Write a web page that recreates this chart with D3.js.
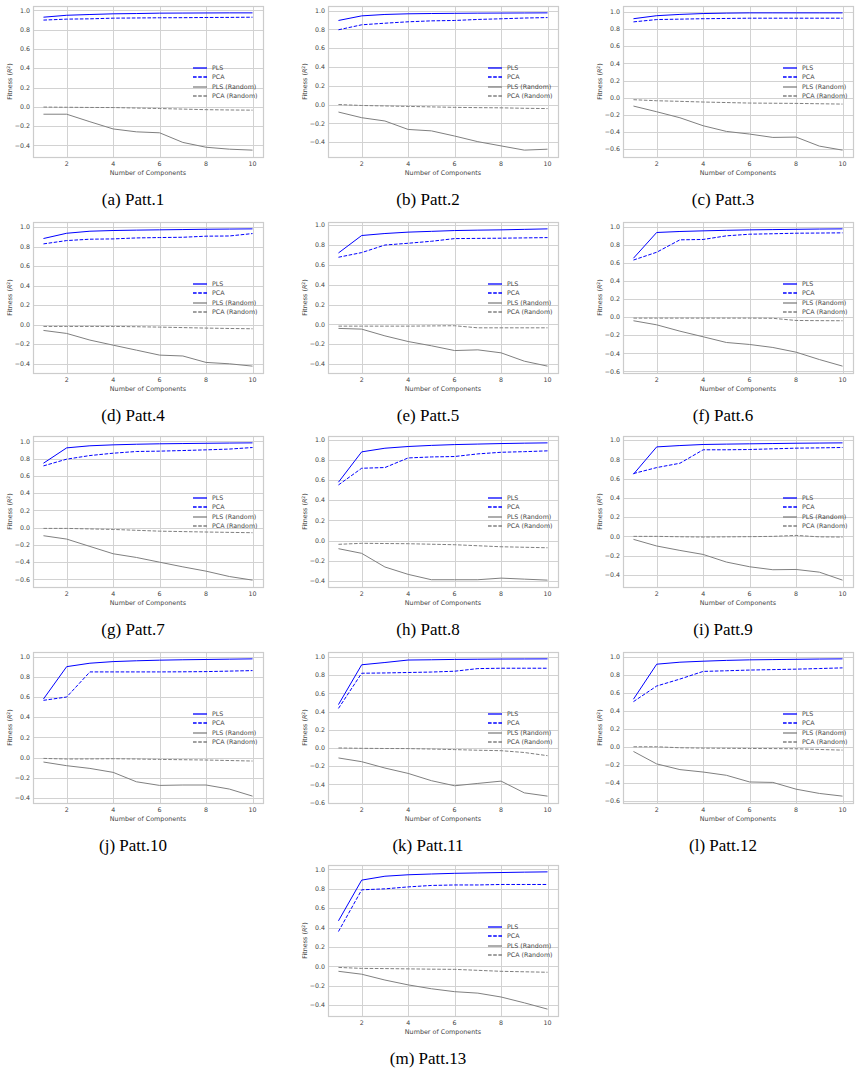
<!DOCTYPE html>
<html>
<head>
<meta charset="utf-8">
<script src="https://cdn.jsdelivr.net/npm/d3@7"></script>
<style>
body { margin: 0; background: #fff; }
text { font-family: "DejaVu Sans", sans-serif; }
</style>
</head>
<body>
<script>
// number of components on the x axis
var components = [1, 2, 3, 4, 5, 6, 7, 8, 9, 10];

var captions = ["(a) Patt.1", "(b) Patt.2", "(c) Patt.3", "(d) Patt.4", "(e) Patt.5",
  "(f) Patt.6", "(g) Patt.7", "(h) Patt.8", "(i) Patt.9", "(j) Patt.10",
  "(k) Patt.11", "(l) Patt.12", "(m) Patt.13"];

var seriesNames = ["PLS", "PCA", "PLS (Random)", "PCA (Random)"];

// one row per pattern
var plsValues = [
  [0.93, 0.95, 0.958, 0.965, 0.968, 0.972, 0.973, 0.974, 0.975, 0.975],
  [0.894, 0.943, 0.958, 0.965, 0.968, 0.97, 0.972, 0.973, 0.974, 0.975],
  [0.92, 0.955, 0.97, 0.98, 0.985, 0.988, 0.988, 0.988, 0.988, 0.988],
  [0.884, 0.938, 0.959, 0.966, 0.97, 0.973, 0.976, 0.979, 0.981, 0.983],
  [0.72, 0.896, 0.916, 0.93, 0.938, 0.946, 0.95, 0.953, 0.958, 0.963],
  [0.65, 0.934, 0.945, 0.952, 0.958, 0.963, 0.966, 0.969, 0.972, 0.974],
  [0.748, 0.926, 0.95, 0.961, 0.968, 0.973, 0.976, 0.979, 0.982, 0.984],
  [0.578, 0.878, 0.914, 0.931, 0.942, 0.95, 0.955, 0.96, 0.964, 0.967],
  [0.646, 0.93, 0.944, 0.955, 0.959, 0.962, 0.965, 0.968, 0.97, 0.972],
  [0.58, 0.9, 0.934, 0.95, 0.958, 0.964, 0.968, 0.971, 0.974, 0.977],
  [0.477, 0.915, 0.94, 0.967, 0.97, 0.974, 0.976, 0.978, 0.979, 0.98],
  [0.527, 0.915, 0.937, 0.948, 0.957, 0.963, 0.966, 0.969, 0.972, 0.974],
  [0.47, 0.89, 0.93, 0.945, 0.953, 0.96, 0.964, 0.968, 0.972, 0.975]
];

var pcaValues = [
  [0.9, 0.91, 0.913, 0.92, 0.922, 0.924, 0.925, 0.927, 0.928, 0.93],
  [0.795, 0.848, 0.865, 0.88, 0.89, 0.894, 0.905, 0.912, 0.92, 0.925],
  [0.883, 0.91, 0.915, 0.92, 0.923, 0.926, 0.926, 0.926, 0.926, 0.926],
  [0.829, 0.863, 0.877, 0.88, 0.89, 0.894, 0.897, 0.908, 0.91, 0.935],
  [0.677, 0.724, 0.8, 0.818, 0.838, 0.865, 0.867, 0.869, 0.872, 0.875],
  [0.63, 0.716, 0.853, 0.857, 0.897, 0.915, 0.92, 0.926, 0.928, 0.93],
  [0.717, 0.795, 0.837, 0.864, 0.884, 0.888, 0.895, 0.903, 0.912, 0.93],
  [0.551, 0.716, 0.723, 0.818, 0.828, 0.832, 0.858, 0.874, 0.88, 0.888],
  [0.653, 0.715, 0.76, 0.9, 0.9, 0.903, 0.91, 0.917, 0.92, 0.924],
  [0.567, 0.6, 0.848, 0.848, 0.848, 0.848, 0.849, 0.851, 0.856, 0.861],
  [0.435, 0.822, 0.825, 0.83, 0.835, 0.844, 0.873, 0.877, 0.877, 0.877],
  [0.5, 0.673, 0.75, 0.835, 0.842, 0.85, 0.855, 0.86, 0.867, 0.874],
  [0.36, 0.79, 0.8, 0.82, 0.835, 0.84, 0.84, 0.845, 0.845, 0.845]
];

var plsRandomValues = [
  [-0.077, -0.077, -0.155, -0.23, -0.26, -0.27, -0.37, -0.42, -0.44, -0.45],
  [-0.08, -0.14, -0.175, -0.265, -0.28, -0.335, -0.395, -0.44, -0.485, -0.475],
  [-0.097, -0.163, -0.233, -0.326, -0.392, -0.423, -0.462, -0.458, -0.563, -0.61],
  [-0.058, -0.089, -0.157, -0.209, -0.26, -0.311, -0.32, -0.386, -0.4, -0.424],
  [-0.04, -0.047, -0.115, -0.172, -0.215, -0.263, -0.256, -0.286, -0.37, -0.42],
  [-0.04, -0.085, -0.155, -0.217, -0.28, -0.302, -0.335, -0.387, -0.468, -0.541],
  [-0.093, -0.132, -0.217, -0.302, -0.345, -0.4, -0.454, -0.504, -0.566, -0.608],
  [-0.079, -0.125, -0.26, -0.333, -0.386, -0.386, -0.386, -0.37, -0.38, -0.39],
  [-0.031, -0.1, -0.146, -0.188, -0.267, -0.316, -0.347, -0.344, -0.372, -0.455],
  [-0.043, -0.079, -0.106, -0.145, -0.238, -0.274, -0.27, -0.27, -0.31, -0.38],
  [-0.11, -0.151, -0.221, -0.28, -0.36, -0.416, -0.39, -0.365, -0.494, -0.53],
  [-0.052, -0.19, -0.253, -0.28, -0.316, -0.39, -0.395, -0.47, -0.517, -0.547],
  [-0.05, -0.08, -0.14, -0.19, -0.23, -0.26, -0.275, -0.315, -0.375, -0.44]
];

var pcaRandomValues = [
  [-0.003, -0.005, -0.007, -0.008, -0.013, -0.018, -0.024, -0.03, -0.033, -0.035],
  [0.0, -0.01, -0.015, -0.02, -0.025, -0.03, -0.033, -0.035, -0.04, -0.043],
  [-0.023, -0.035, -0.042, -0.05, -0.056, -0.062, -0.064, -0.066, -0.07, -0.074],
  [-0.017, -0.017, -0.017, -0.017, -0.02, -0.024, -0.029, -0.034, -0.038, -0.041],
  [-0.017, -0.017, -0.017, -0.017, -0.015, -0.013, -0.034, -0.034, -0.034, -0.034],
  [-0.011, -0.011, -0.011, -0.011, -0.011, -0.011, -0.013, -0.037, -0.039, -0.04],
  [-0.008, -0.008, -0.014, -0.02, -0.03, -0.04, -0.045, -0.05, -0.054, -0.058],
  [-0.036, -0.026, -0.028, -0.03, -0.035, -0.04, -0.05, -0.06, -0.065, -0.07],
  [0.0, 0.0, -0.004, -0.007, -0.005, -0.003, 0.0, 0.01, -0.005, -0.007],
  [-0.007, -0.013, -0.012, -0.01, -0.013, -0.017, -0.02, -0.023, -0.028, -0.033],
  [0.0, -0.004, -0.006, -0.007, -0.012, -0.018, -0.025, -0.03, -0.05, -0.085],
  [0.0, 0.0, -0.011, -0.015, -0.017, -0.019, -0.02, -0.022, -0.03, -0.037],
  [-0.01, -0.02, -0.022, -0.025, -0.028, -0.03, -0.04, -0.05, -0.055, -0.06]
];

var xTickValues = [2, 4, 6, 8, 10];

var svg = d3.select("body").append("svg")
  .attr("width", 860)
  .attr("height", 1077);

var colX = [33, 328, 623];
var rowY = [6, 222, 436, 652, 865];
var W = 230, H = 151;

var lineStyles = [
  { color: "#0000ff", dash: null },
  { color: "#0000ff", dash: "3.6,1.6" },
  { color: "#808080", dash: null },
  { color: "#808080", dash: "3.6,1.6" }
];

var fmt = d3.format(".1f");

// half-pixel snapping so the thin grid lines stay crisp
function crisp(v) { return Math.round(v) + 0.5; }

captions.forEach(function(cap, i) {
  var left = i < 12 ? colX[i % 3] : colX[1];
  var top = rowY[Math.floor(i / 3)];
  var series = [plsValues[i], pcaValues[i], plsRandomValues[i], pcaRandomValues[i]];

  var all = d3.merge(series);
  var lo = d3.min(all), hi = d3.max(all), pad = (hi - lo) * 0.05;

  var x = d3.scaleLinear().domain([0.55, 10.45]).range([0, W]);
  var y = d3.scaleLinear().domain([lo - pad, hi + pad]).range([H, 0]);

  var yTicks = d3.range(Math.ceil((lo - pad) / 0.2 - 1e-9), Math.floor((hi + pad) / 0.2 + 1e-9) + 1)
    .map(function(k) { return Math.round(k * 2) / 10; });

  var g = svg.append("g").attr("transform", "translate(" + left + "," + top + ")");

  // grid
  g.selectAll(".gx").data(xTickValues).enter().append("line")
    .attr("x1", function(d) { return crisp(x(d)); })
    .attr("x2", function(d) { return crisp(x(d)); })
    .attr("y1", 0).attr("y2", H)
    .attr("stroke", "#d2d2d2").attr("stroke-width", 1);
  g.selectAll(".gy").data(yTicks).enter().append("line")
    .attr("x1", 0).attr("x2", W)
    .attr("y1", function(d) { return crisp(y(d)); })
    .attr("y2", function(d) { return crisp(y(d)); })
    .attr("stroke", "#d2d2d2").attr("stroke-width", 1);

  g.append("rect")
    .attr("x", 0.5).attr("y", 0.5)
    .attr("width", W).attr("height", H)
    .attr("fill", "none").attr("stroke", "#cccccc").attr("stroke-width", 1.2);

  // tick labels
  g.selectAll(".tx").data(xTickValues).enter().append("text")
    .attr("x", function(d) { return x(d); })
    .attr("y", H + 9)
    .attr("text-anchor", "middle")
    .attr("font-size", 6.3).attr("fill", "#444")
    .text(function(d) { return d; });
  g.selectAll(".ty").data(yTicks).enter().append("text")
    .attr("x", -3)
    .attr("y", function(d) { return y(d) + 2.2; })
    .attr("text-anchor", "end")
    .attr("font-size", 6.3).attr("fill", "#444")
    .text(function(d) { return fmt(d === 0 ? 0 : d); });

  g.append("text")
    .attr("x", W / 2).attr("y", H + 18)
    .attr("text-anchor", "middle")
    .attr("font-size", 6.4).attr("fill", "#444")
    .text("Number of Components");

  var yl = g.append("text")
    .attr("transform", "translate(-21," + (H / 2) + ") rotate(-90)")
    .attr("text-anchor", "middle")
    .attr("font-size", 6.4).attr("fill", "#444");
  yl.append("tspan").text("Fitness (");
  yl.append("tspan").attr("font-style", "italic").text("R");
  yl.append("tspan").attr("font-size", 4.5).attr("dy", -2.5).text("2");
  yl.append("tspan").attr("dy", 2.5).text(")");

  // lines
  var line = d3.line()
    .x(function(d, j) { return x(components[j]); })
    .y(function(d) { return y(d); });

  series.forEach(function(s, k) {
    g.append("path")
      .attr("d", line(s))
      .attr("fill", "none")
      .attr("stroke", lineStyles[k].color)
      .attr("stroke-width", 1)
      .attr("stroke-dasharray", lineStyles[k].dash);
  });

  // legend, centre right
  var legTop = Math.round(H / 2 - 14);
  var leg = g.append("g").attr("transform", "translate(160," + legTop + ")");
  seriesNames.forEach(function(name, k) {
    var ly = Math.round(k * 9.3);
    leg.append("line")
      .attr("x1", 0).attr("x2", 14)
      .attr("y1", ly).attr("y2", ly)
      .attr("stroke", lineStyles[k].color)
      .attr("stroke-width", 1.3)
      .attr("stroke-dasharray", lineStyles[k].dash);
    leg.append("text")
      .attr("x", 19).attr("y", ly + 2.3)
      .attr("font-size", 6.3).attr("fill", "#444")
      .text(name);
  });

  // caption
  svg.append("text")
    .attr("x", left + 100).attr("y", top + 199)
    .attr("text-anchor", "middle")
    .style("font-family", "'Liberation Serif', 'Times New Roman', serif")
    .attr("font-size", 17).attr("fill", "#000")
    .text(cap);
});
</script>
</body>
</html>
